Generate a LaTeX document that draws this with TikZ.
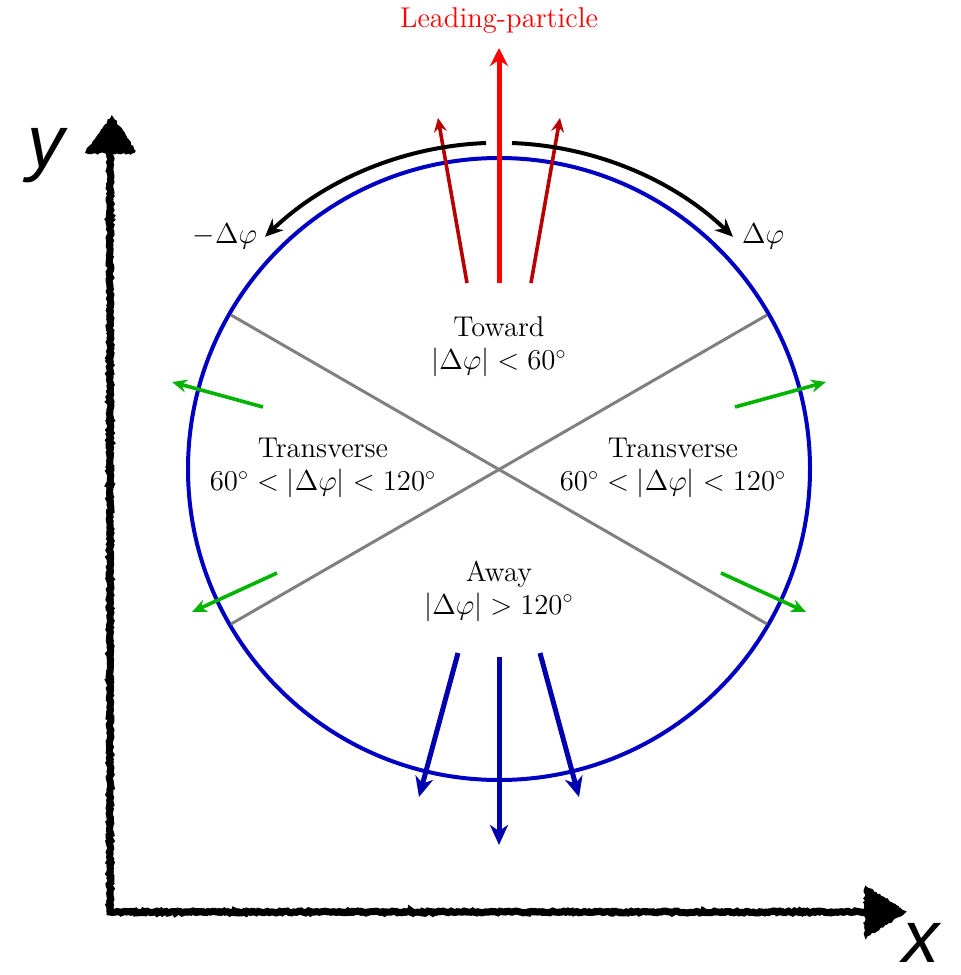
\documentclass[tikz,border=0pt]{standalone}
\usepackage{fontspec}
\newfontfamily\axisfont{Liberation Sans}
\usetikzlibrary{arrows.meta,decorations.pathmorphing}
\definecolor{cblue}{RGB}{0,0,195}
\definecolor{cdblue}{RGB}{0,0,175}
\definecolor{cdred}{RGB}{185,0,0}
\definecolor{cgreen}{RGB}{0,180,0}
\definecolor{cgrey}{RGB}{128,128,128}
\definecolor{cred}{RGB}{255,0,0}
\begin{document}
\begin{tikzpicture}[x=0.5pt,y=-0.5pt,
  lbl/.style={font=\fontsize{14.3}{16.5}\selectfont, align=center, inner sep=0pt},
  rough/.style={decorate, decoration={random steps, segment length=1pt, amplitude=0.5pt}},
  bluearr/.style={cdblue, line width=2.5pt, -{Stealth[length=10pt,width=9pt,inset=3pt]}},
  greenarr/.style={cgreen, line width=1.8pt, -{Stealth[length=7.5pt,width=6.5pt,inset=2.5pt]}},
  redarr/.style={cred, line width=2.5pt, -{Stealth[length=9pt,width=9pt,inset=3pt]}},
  dredarr/.style={cdred, line width=1.8pt, -{Stealth[length=7pt,width=6.5pt,inset=2.5pt]}},
  blackarr/.style={black, line width=2pt, -{Stealth[length=9pt,width=8pt,inset=3pt]}},
  axlbl/.style={font=\axisfont\itshape\fontsize{37}{40}\selectfont, inner sep=0pt}
]
\pgfmathsetseed{7}
\useasboundingbox (0,0) rectangle (960,975);

% axes
\coordinate (O) at (110,912);
\coordinate (Ytop) at (110,150);
\coordinate (Xend) at (868,912);
\draw[rough, line width=3.5pt] (Ytop) -- (O) -- (Xend);
\draw[rough, line width=2.5pt] (Ytop) -- (O) -- (Xend);
\filldraw[rough, line width=1.5pt] (87,152) -- (135,152) -- (112,118) -- cycle;
\filldraw[rough, line width=1.5pt] (866,888) -- (866,936) -- (904,912) -- cycle;
\node[axlbl] (ylab) at (46,156) {y};
\node[axlbl] (xlab) at (921,943) {x};

% circle
\coordinate (C) at (499,469);
\draw[cblue, line width=2pt] (C) circle[radius=311];

% sector lines
\draw[cgrey, line width=1.5pt] (231,315) -- (767,624);
\draw[cgrey, line width=1.5pt] (231,624) -- (767,315);

% leading particle arrows
\draw[redarr] (499,283) -- (499,48);
\draw[dredarr] (467,283) -- (438,118);
\draw[dredarr] (531,283) -- (560,118);
\node[lbl, text=cred] (lead) at (499,21) {Leading-particle};

% delta phi arcs
\draw[blackarr] (512,143) arc[start angle=-87.8, end angle=-46.2, radius=338];
\draw[blackarr] (486,143) arc[start angle=-92.2, end angle=-133.8, radius=338];
\node[lbl] (dphir) at (763,236) {$\Delta\varphi$};
\node[lbl] (dphil) at (225,236) {$-\Delta\varphi$};

% transverse arrows
\draw[greenarr] (263,407) -- (172,382);
\draw[greenarr] (277,573) -- (192,612);
\draw[greenarr] (735,407) -- (826,382);
\draw[greenarr] (721,573) -- (806,612);

% away arrows
\draw[bluearr] (458,653) -- (419,797);
\draw[bluearr] (499,657) -- (499,845);
\draw[bluearr] (540,653) -- (579,797);

% region labels
\node[lbl] (toward) at (499,347) {Toward\\$|\Delta\varphi|<60^\circ$};
\node[lbl] (transl) at (323,468) {Transverse\\$60^\circ<|\Delta\varphi|<120^\circ$};
\node[lbl] (transr) at (673,468) {Transverse\\$60^\circ<|\Delta\varphi|<120^\circ$};
\node[lbl] (away) at (499,591) {Away\\$|\Delta\varphi|>120^\circ$};
\end{tikzpicture}
\end{document}
